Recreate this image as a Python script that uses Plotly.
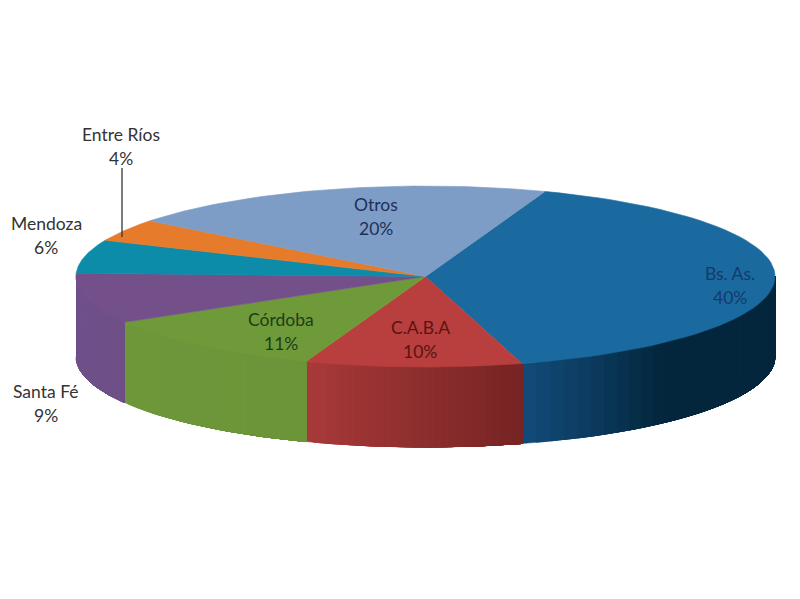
import numpy as np
import plotly.graph_objects as go

# slices, clockwise from the Bs. As. / Otros edge
names = ['Bs. As.', 'C.A.B.A', 'Córdoba', 'Santa Fé', 'Mendoza', 'Entre Ríos', 'Otros']
shares = [40, 10, 11, 9, 6, 4, 20]

top_colors = ['#1a6a9f', '#b93f3e', '#6f9a3a', '#74508b', '#0c8ca8', '#e77b2c', '#7e9dc6']
wall_left = ['#114a78', '#a83939', '#6d9739', '#71508a', '#0c8ca8', '#e77b2c', '#7e9dc6']
wall_right = ['#04263d', '#772424', '#6b9538', '#6e4f86', '#0c8ca8', '#e77b2c', '#7e9dc6']
wall_span = [0.35, 1, 1, 1, 1, 1, 1]

label_x = [730, 420, 281, 46, 46, 121, 376]
label_y = [285, 339, 331, 403, 235, 146, 216]
label_colors = ['#15396a', '#571414', '#1e3d16', '#333333', '#333333', '#333333', '#1f3056']

# ellipse of the pie top, in page pixels
CX, CY, RX, RY = 425.5, 276.5, 349.5, 90.5
DEPTH = 80
START = 70
# the page sits 8px in from the window corner
OFFSET = 8


def rim(t, drop=0):
    t = np.radians(t)
    return CX + RX * np.cos(t), CY - RY * np.sin(t) + drop


def mix(c1, c2, f):
    a = [int(c1[i:i + 2], 16) for i in (1, 3, 5)]
    b = [int(c2[i:i + 2], 16) for i in (1, 3, 5)]
    return 'rgb(%d,%d,%d)' % tuple(round(p + (q - p) * f) for p, q in zip(a, b))


def polygon(fig, x, y, color):
    fig.add_trace(go.Scatter(
        x=x, y=y, mode='lines', fill='toself', fillcolor=color,
        line=dict(color=color, width=0.6), hoverinfo='skip', showlegend=False,
    ))


fig = go.Figure()

ends = START - np.cumsum(shares) * 3.6
starts = np.concatenate([[START], ends[:-1]])

# outer wall, only the front half of the rim shows
STEPS = 30
for i in range(len(names)):
    lo = max(ends[i], -180)
    hi = min(starts[i], 0)
    if hi <= lo:
        continue
    # each strip runs on to the slice's right end so no seams show between strips
    for j in range(STEPS):
        ts = np.linspace(lo + (hi - lo) * j / STEPS, hi, 40)
        xt, yt = rim(ts)
        xb, yb = rim(ts[::-1], DEPTH)
        f = min(1, j / (STEPS - 1) / wall_span[i])
        polygon(fig, list(xt) + list(xb), list(yt) + list(yb), mix(wall_left[i], wall_right[i], f))

# pie top
for i in range(len(names)):
    ts = np.linspace(starts[i], ends[i], 60)
    x, y = rim(ts)
    polygon(fig, [CX] + list(x) + [CX], [CY] + list(y) + [CY], top_colors[i])

# leader line for Entre Ríos
fig.add_trace(go.Scatter(
    x=[122, 122], y=[168, 237], mode='lines',
    line=dict(color='#333333', width=1.3), hoverinfo='skip', showlegend=False,
))

for i in range(len(names)):
    for text, dy in ((names[i], -12), ('%d%%' % shares[i], 12)):
        fig.add_annotation(
            x=label_x[i], y=label_y[i] + dy, xref='x', yref='y', showarrow=False,
            text=text, font=dict(family='Lato', size=17.5, color=label_colors[i]),
        )

fig.update_layout(
    width=800, height=599,
    margin=dict(l=0, r=0, t=0, b=0),
    paper_bgcolor='white',
    plot_bgcolor='white',
    xaxis=dict(range=[OFFSET, 800 + OFFSET], visible=False, fixedrange=True),
    yaxis=dict(range=[599 + OFFSET, OFFSET], visible=False, fixedrange=True),
)
fig.write_html("out.html")
